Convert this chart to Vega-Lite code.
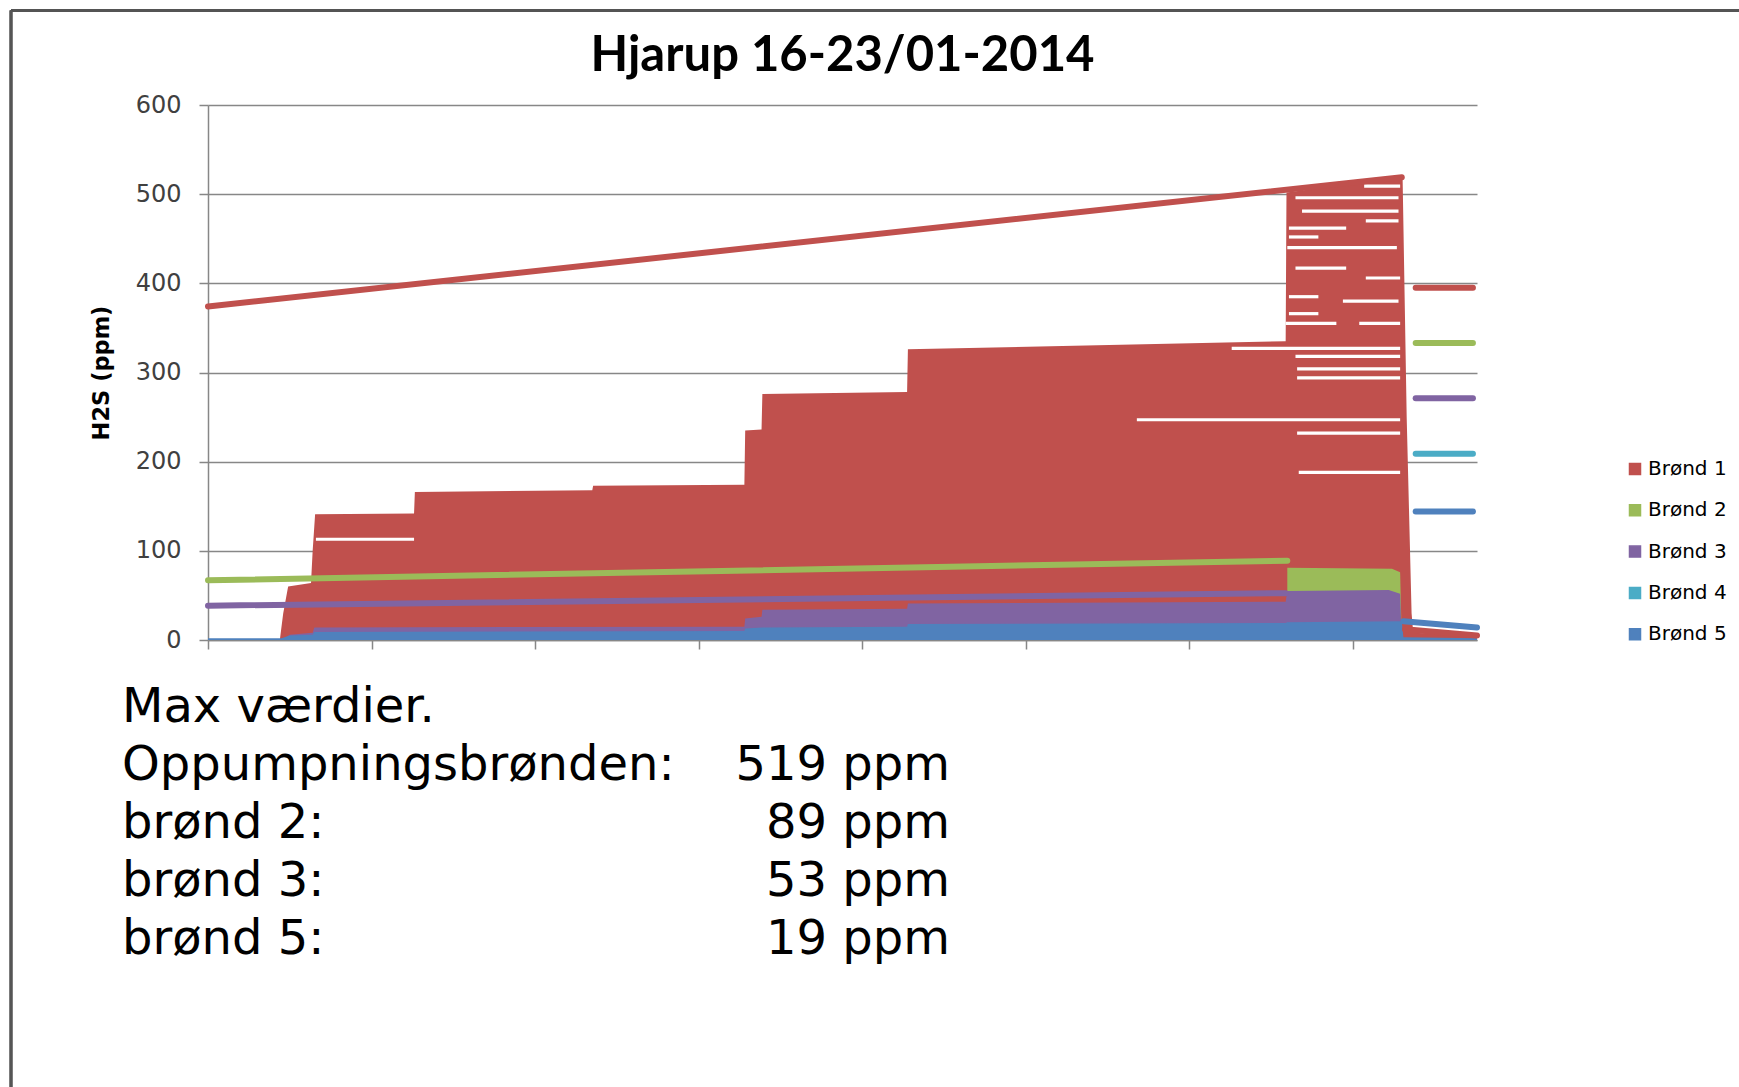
{
  "$schema": "https://vega.github.io/schema/vega-lite/v6.json",
  "width": 1269,
  "height": 535,
  "autosize": {"type": "none"},
  "padding": {"left": 208, "top": 105, "right": 262, "bottom": 447},
  "background": "#ffffff",
  "title": {"text": "Hjarup 16-23/01-2014", "frame": "group", "anchor": "middle", "font": "Lato", "fontSize": 49, "fontWeight": "bold", "color": "#000000", "offset": -72},
  "datasets": {
    "areas": [
      {"s": "Brønd 1", "d": 0, "v": 0},
      {"s": "Brønd 1", "d": 0.44, "v": 1},
      {"s": "Brønd 1", "d": 0.46, "v": 30},
      {"s": "Brønd 1", "d": 0.49, "v": 60},
      {"s": "Brønd 1", "d": 0.63, "v": 64},
      {"s": "Brønd 1", "d": 0.64, "v": 100},
      {"s": "Brønd 1", "d": 0.655, "v": 141},
      {"s": "Brønd 1", "d": 1.26, "v": 142},
      {"s": "Brønd 1", "d": 1.265, "v": 166},
      {"s": "Brønd 1", "d": 2.35, "v": 168},
      {"s": "Brønd 1", "d": 2.355, "v": 173},
      {"s": "Brønd 1", "d": 3.28, "v": 174},
      {"s": "Brønd 1", "d": 3.285, "v": 235},
      {"s": "Brønd 1", "d": 3.385, "v": 236},
      {"s": "Brønd 1", "d": 3.39, "v": 276},
      {"s": "Brønd 1", "d": 4.275, "v": 278},
      {"s": "Brønd 1", "d": 4.28, "v": 326},
      {"s": "Brønd 1", "d": 6.59, "v": 335},
      {"s": "Brønd 1", "d": 6.595, "v": 502},
      {"s": "Brønd 1", "d": 7.305, "v": 519},
      {"s": "Brønd 1", "d": 7.33, "v": 250},
      {"s": "Brønd 1", "d": 7.36, "v": 30},
      {"s": "Brønd 1", "d": 7.37, "v": 8},
      {"s": "Brønd 1", "d": 7.76, "v": 5},
      {"s": "Brønd 2", "d": 6.6, "v": 81},
      {"s": "Brønd 2", "d": 7.24, "v": 80},
      {"s": "Brønd 2", "d": 7.29, "v": 76},
      {"s": "Brønd 2", "d": 7.3, "v": 0},
      {"s": "Brønd 3", "d": 0.45, "v": 0},
      {"s": "Brønd 3", "d": 0.5, "v": 6},
      {"s": "Brønd 3", "d": 0.64, "v": 8},
      {"s": "Brønd 3", "d": 0.65, "v": 14},
      {"s": "Brønd 3", "d": 3.28, "v": 15},
      {"s": "Brønd 3", "d": 3.285, "v": 24},
      {"s": "Brønd 3", "d": 3.385, "v": 26},
      {"s": "Brønd 3", "d": 3.39, "v": 34},
      {"s": "Brønd 3", "d": 4.275, "v": 35},
      {"s": "Brønd 3", "d": 4.28, "v": 41},
      {"s": "Brønd 3", "d": 6.59, "v": 43},
      {"s": "Brønd 3", "d": 6.6, "v": 55},
      {"s": "Brønd 3", "d": 7.22, "v": 56},
      {"s": "Brønd 3", "d": 7.29, "v": 52},
      {"s": "Brønd 3", "d": 7.3, "v": 0},
      {"s": "Brønd 5", "d": 0, "v": 2},
      {"s": "Brønd 5", "d": 0.45, "v": 2},
      {"s": "Brønd 5", "d": 0.5, "v": 5},
      {"s": "Brønd 5", "d": 0.64, "v": 6},
      {"s": "Brønd 5", "d": 0.65, "v": 9},
      {"s": "Brønd 5", "d": 3.28, "v": 10},
      {"s": "Brønd 5", "d": 3.285, "v": 13},
      {"s": "Brønd 5", "d": 3.39, "v": 14},
      {"s": "Brønd 5", "d": 4.275, "v": 15},
      {"s": "Brønd 5", "d": 4.28, "v": 18},
      {"s": "Brønd 5", "d": 6.59, "v": 19},
      {"s": "Brønd 5", "d": 6.6, "v": 20},
      {"s": "Brønd 5", "d": 7.3, "v": 21},
      {"s": "Brønd 5", "d": 7.31, "v": 3},
      {"s": "Brønd 5", "d": 7.76, "v": 2}
    ],
    "gaps": [
      {"d": 0.66, "d2": 1.26, "v": 113},
      {"d": 5.68, "d2": 7.29, "v": 247},
      {"d": 6.67, "d2": 7.29, "v": 188},
      {"d": 6.66, "d2": 7.29, "v": 232},
      {"d": 6.66, "d2": 7.29, "v": 294},
      {"d": 6.66, "d2": 7.29, "v": 304},
      {"d": 6.65, "d2": 7.29, "v": 318},
      {"d": 6.26, "d2": 7.29, "v": 327},
      {"d": 6.59, "d2": 6.9, "v": 355},
      {"d": 7.04, "d2": 7.29, "v": 355},
      {"d": 6.61, "d2": 6.79, "v": 366},
      {"d": 6.94, "d2": 7.28, "v": 380},
      {"d": 6.61, "d2": 6.79, "v": 385},
      {"d": 7.08, "d2": 7.29, "v": 406},
      {"d": 6.65, "d2": 6.96, "v": 417},
      {"d": 6.6, "d2": 7.27, "v": 440},
      {"d": 6.61, "d2": 6.79, "v": 452},
      {"d": 6.61, "d2": 6.96, "v": 462},
      {"d": 7.08, "d2": 7.28, "v": 470},
      {"d": 6.69, "d2": 7.28, "v": 481},
      {"d": 6.65, "d2": 7.28, "v": 496},
      {"d": 7.07, "d2": 7.29, "v": 509}
    ],
    "lines": [
      {"s": "Brønd 1", "g": "trend", "d": 0, "v": 374},
      {"s": "Brønd 1", "g": "trend", "d": 7.3, "v": 519},
      {"s": "Brønd 1", "g": "tail", "d": 7.32, "v": 12},
      {"s": "Brønd 1", "g": "tail", "d": 7.76, "v": 5},
      {"s": "Brønd 2", "g": "trend", "d": 0, "v": 67},
      {"s": "Brønd 2", "g": "trend", "d": 6.6, "v": 89},
      {"s": "Brønd 3", "g": "trend", "d": 0, "v": 38.5},
      {"s": "Brønd 3", "g": "trend", "d": 6.59, "v": 52.5},
      {"s": "Brønd 5", "g": "tail", "d": 7.31, "v": 21},
      {"s": "Brønd 5", "g": "tail", "d": 7.76, "v": 14},
      {"s": "Brønd 1", "g": "key", "d": 7.385, "v": 395},
      {"s": "Brønd 1", "g": "key", "d": 7.735, "v": 395},
      {"s": "Brønd 2", "g": "key", "d": 7.385, "v": 333},
      {"s": "Brønd 2", "g": "key", "d": 7.735, "v": 333},
      {"s": "Brønd 3", "g": "key", "d": 7.385, "v": 271},
      {"s": "Brønd 3", "g": "key", "d": 7.735, "v": 271},
      {"s": "Brønd 4", "g": "key", "d": 7.385, "v": 209},
      {"s": "Brønd 4", "g": "key", "d": 7.735, "v": 209},
      {"s": "Brønd 5", "g": "key", "d": 7.385, "v": 144},
      {"s": "Brønd 5", "g": "key", "d": 7.735, "v": 144}
    ],
    "notes": [
      {"r": 0, "label": "Max værdier.", "value": ""},
      {"r": 1, "label": "Oppumpningsbrønden:", "value": "519 ppm"},
      {"r": 2, "label": "brønd 2:", "value": "89 ppm"},
      {"r": 3, "label": "brønd 3:", "value": "53 ppm"},
      {"r": 4, "label": "brønd 5:", "value": "19 ppm"}
    ]
  },
  "layer": [
    {
      "encoding": {
        "x": {"field": "d", "type": "quantitative", "scale": {"domain": [0, 7.76], "nice": false, "zero": false},
              "axis": {"values": [0, 1, 2, 3, 4, 5, 6, 7], "labels": false, "grid": false, "title": null, "tickSize": 9}},
        "y": {"field": "v", "type": "quantitative", "scale": {"domain": [0, 600], "nice": false},
              "axis": {"values": [0, 100, 200, 300, 400, 500, 600], "grid": true, "title": "H2S (ppm)", "tickSize": 9, "labelPadding": 18, "titlePadding": 22, "titleFont": "DejaVu Sans", "titleFontSize": 22.5, "titleFontWeight": "bold", "titleColor": "#000000"}}
      },
      "layer": [
        {
          "data": {"name": "areas"},
          "transform": [{"filter": "datum.s === 'Brønd 1'"}],
          "mark": {"type": "area", "opacity": 1},
          "encoding": {
            "color": {"field": "s", "type": "nominal",
              "scale": {"domain": ["Brønd 1", "Brønd 2", "Brønd 3", "Brønd 4", "Brønd 5"], "range": ["#C0504D", "#9BBB59", "#8064A2", "#4BACC6", "#4F81BD"]},
              "legend": {"title": null, "orient": "none", "legendX": 1417, "legendY": 354, "symbolType": "square", "symbolSize": 121, "symbolOpacity": 1, "labelFont": "DejaVu Sans", "labelFontSize": 20, "labelColor": "#000000", "rowPadding": 21.3, "labelOffset": 3, "padding": 0}}
          }
        },
        {
          "data": {"name": "gaps"},
          "mark": {"type": "rule", "color": "#ffffff", "strokeWidth": 3.2},
          "encoding": {"x2": {"field": "d2"}}
        },
        {
          "data": {"name": "areas"},
          "transform": [{"filter": "datum.s === 'Brønd 2'"}],
          "mark": {"type": "area", "opacity": 1, "color": "#9BBB59"}
        },
        {
          "data": {"name": "areas"},
          "transform": [{"filter": "datum.s === 'Brønd 3'"}],
          "mark": {"type": "area", "opacity": 1, "color": "#8064A2"}
        },
        {
          "data": {"name": "areas"},
          "transform": [{"filter": "datum.s === 'Brønd 5'"}],
          "mark": {"type": "area", "opacity": 1, "color": "#4F81BD"}
        },
        {
          "data": {"name": "lines"},
          "mark": {"type": "line", "strokeWidth": 6, "strokeCap": "round", "strokeJoin": "round"},
          "encoding": {
            "color": {"field": "s", "type": "nominal", "legend": null},
            "detail": {"field": "g"}
          }
        }
      ]
    },
    {
      "data": {"name": "notes"},
      "encoding": {
        "y": {"field": "r", "type": "quantitative", "scale": {"domain": [-10.638, -1.414], "reverse": true, "nice": false, "zero": false}, "axis": null}
      },
      "layer": [
        {
          "mark": {"type": "text", "align": "left", "baseline": "alphabetic", "font": "DejaVu Sans", "fontSize": 48, "color": "#000000"},
          "encoding": {
            "x": {"datum": 0, "type": "quantitative", "scale": {"domain": [0.10386, 1.63647], "nice": false, "zero": false}, "axis": null},
            "text": {"field": "label"}
          }
        },
        {
          "mark": {"type": "text", "align": "right", "baseline": "alphabetic", "font": "DejaVu Sans", "fontSize": 48, "color": "#000000"},
          "encoding": {
            "x": {"datum": 1, "type": "quantitative"},
            "text": {"field": "value"}
          }
        },
        {
          "mark": {"type": "rule", "color": "#555555", "strokeWidth": 2.5},
          "encoding": {
            "x": {"datum": -0.13406, "type": "quantitative"},
            "x2": {"datum": 1.96},
            "y": {"datum": -12.267, "type": "quantitative"}
          }
        },
        {
          "mark": {"type": "rule", "color": "#555555", "strokeWidth": 2.5},
          "encoding": {
            "x": {"datum": -0.13406, "type": "quantitative"},
            "y": {"datum": -12.267, "type": "quantitative"},
            "y2": {"datum": 6.3}
          }
        }
      ]
    }
  ],
  "resolve": {"scale": {"x": "independent", "y": "independent"}},
  "config": {
    "view": {"stroke": null},
    "axis": {"domainColor": "#878787", "domainWidth": 1.5, "tickColor": "#878787", "tickWidth": 1.5, "gridColor": "#878787", "gridWidth": 1.5, "labelFont": "DejaVu Sans", "labelFontSize": 24, "labelColor": "#404040"}
  }
}
